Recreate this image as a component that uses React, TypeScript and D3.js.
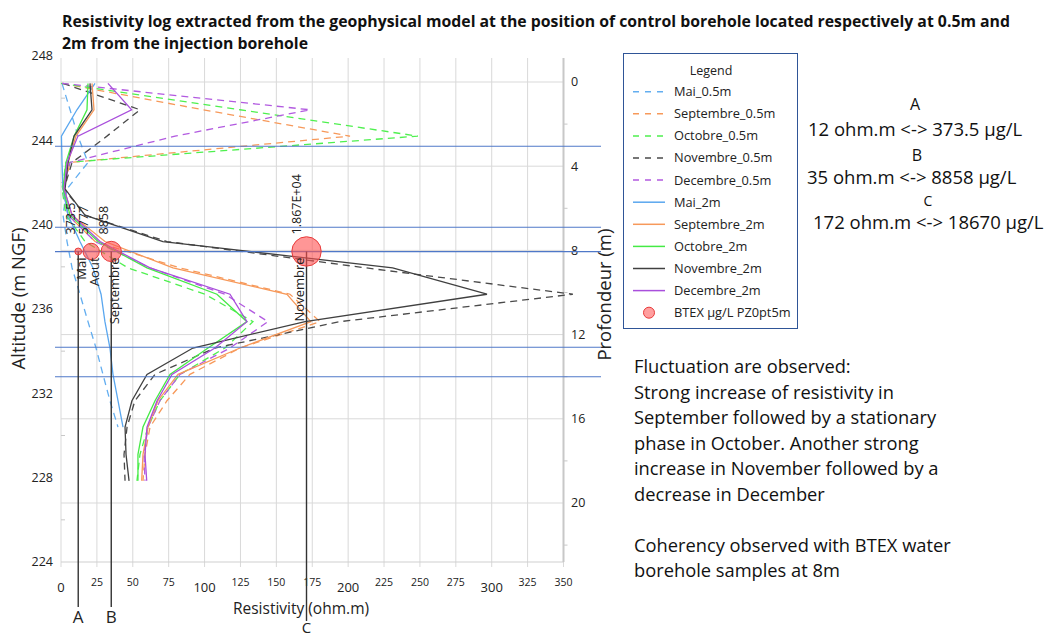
import { useEffect, useRef } from 'react';
import * as d3 from 'd3';

const WIDTH = 1051;
const HEIGHT = 638;
const FONT = "'Open Sans', 'Noto Sans', sans-serif";

// model layers (altitude m NGF), shared by every log
const altitudes = [246.7, 245.45, 244.2, 242.95, 241.7, 240.45, 239.2, 237.95, 236.7, 235.4, 234.15, 232.9, 231.65, 230.4, 229.1, 227.85];

// resistivity (ohm.m) per layer
const mai05 = [0.7, 6.3, 11.8, 18.8, 4.2, 1.4, 4.2, 7.7, 13.2, 18.8, 24.4, 29.2, 34.1, 39.7];
const sept05 = [0.7, 98.9, 201.3, 6.3, 2.1, 4.9, 23.7, 82.9, 159.5, 180.4, 124.7, 89.8, 73.8, 62, 58.5, 57.1];
const oct05 = [0, 124.7, 248.6, 3.5, 0.7, 3.5, 16.7, 46.7, 100.3, 133.7, 114.2, 82.9, 68.9, 60.6, 55, 52.9];
const nov05 = [1.4, 55, 32, 7.7, 2.1, 16.7, 73.8, 212.4, 356.5, 194.3, 107.2, 65.5, 51.5, 46, 43.9, 44.6];
const dec05 = [0.7, 173.4, 79.4, 6.3, 1.4, 4.9, 23.7, 62, 114.2, 144.2, 117.7, 82.9, 68.9, 60.6, 57.8, 58.5];
const mai2 = [23.7, 11.1, 0.3, 0.7, 1.4, 4.9, 13.2, 22.3, 27.9, 30.6, 34.1, 36.2, 39.7, 43.2];
const sept2 = [21.6, 23, 10.4, 4.9, 2.1, 7.7, 30.6, 78, 157.4, 174, 124.7, 81.5, 67.5, 60.6, 57.1, 56.2];
const oct2 = [18.8, 18.1, 9.1, 3.5, 1.4, 6.3, 25.8, 59.9, 108.6, 129.5, 102.4, 75.9, 65.5, 57.1, 53.6, 53.6];
const nov2 = [20.2, 21.6, 9.1, 4.9, 2.8, 16.7, 71, 231, 296.7, 170, 91.9, 59.9, 49.4, 44.6, 45.3, 47.4];
const dec2 = [32.7, 49.2, 11.8, 4.2, 2.1, 7.7, 27.2, 62, 117.7, 129.5, 107.2, 77.3, 66.9, 59.9, 58.5, 59.7];

const seriesNames = ['Mai_0.5m', 'Septembre_0.5m', 'Octobre_0.5m', 'Novembre_0.5m', 'Decembre_0.5m', 'Mai_2m', 'Septembre_2m', 'Octobre_2m', 'Novembre_2m', 'Decembre_2m'];
const seriesValues = [mai05, sept05, oct05, nov05, dec05, mai2, sept2, oct2, nov2, dec2];
const seriesColors = ['#63aef0', '#f7995a', '#4ff04f', '#4a4a4a', '#b25ae0', '#5aa7ef', '#f7995a', '#45ea45', '#404040', '#a94fdc'];
const seriesDashed = [true, true, true, true, true, false, false, false, false, false];

// BTEX samples (PZ0pt5m) at 8 m depth
const btexMonths = ['Mai', 'Aout', 'Septembre', 'Novembre'];
const btexResistivity = [12, 21, 35, 171];
const btexValues = [373.5, 5777, 8858, 18670];
const btexLabels = ['373.5', '5777', '8858', '1.867E+04'];
const btexDepth = 8.05;

// reference lines A / B / C
const refLetters = ['A', 'B', 'C'];
const refResistivity = [12, 35, 171];

// blue horizontal markers (depth, m)
const markerDepths = [3.05, 6.9, 8.06, 12.6, 14.0];

const xTicks = [0, 25, 50, 75, 100, 125, 150, 175, 200, 225, 250, 275, 300, 325, 350];
const altTicks = [248, 244, 240, 236, 232, 228, 224];
const altMinor = [246, 242, 238, 234, 230, 226];
const depthTicks = [0, 4, 8, 12, 16, 20];
const depthMinor = [2, 6, 10, 14, 18, 22];

const ratioLines = ['12 ohm.m <-> 373.5 µg/L', '35 ohm.m <-> 8858 µg/L', '172 ohm.m <-> 18670 µg/L'];
const noteLines = [
  'Fluctuation are observed:',
  'Strong increase of resistivity in',
  'September followed by a stationary',
  'phase in October. Another strong',
  'increase in November followed by a',
  'decrease in December',
  '',
  'Coherency observed with BTEX water',
  'borehole samples at 8m',
];

export default function App() {
  const svgRef = useRef<SVGSVGElement>(null);

  useEffect(() => {
    if (!svgRef.current) return;
    const svg = d3.select(svgRef.current);
    svg.selectAll('*').remove();

    const x = d3.scaleLinear().domain([0, 350]).range([61, 563.5]);
    const yAlt = d3.scaleLinear().domain([224, 248]).range([562, 56]);
    const yDepth = d3.scaleLinear().domain([0, 20]).range([82, 503]);
    const top = yAlt(248) + 2;
    const bottom = yAlt(224);

    svg.append('rect').attr('width', WIDTH).attr('height', HEIGHT).attr('fill', '#fff');

    // vertical grid
    const grid = svg.append('g');
    xTicks.forEach((t) => {
      grid.append('line')
        .attr('x1', x(t)).attr('x2', x(t))
        .attr('y1', top).attr('y2', bottom + 5)
        .attr('stroke', '#d9d9d9').attr('stroke-width', 1);
    });
    // horizontal grid from the depth axis
    depthTicks.forEach((t) => {
      grid.append('line')
        .attr('x1', x(0)).attr('x2', x(350))
        .attr('y1', yDepth(t)).attr('y2', yDepth(t))
        .attr('stroke', '#d9d9d9').attr('stroke-width', 1);
    });
    // bottom axis
    grid.append('line')
      .attr('x1', x(0)).attr('x2', x(350))
      .attr('y1', bottom).attr('y2', bottom)
      .attr('stroke', '#d0d0d0').attr('stroke-width', 1.2);
    // right axis
    grid.append('line')
      .attr('x1', x(350)).attr('x2', x(350))
      .attr('y1', top).attr('y2', bottom)
      .attr('stroke', '#c8c8c8').attr('stroke-width', 2);
    depthMinor.forEach((t) => {
      grid.append('line')
        .attr('x1', x(350)).attr('x2', x(350) + 4)
        .attr('y1', yDepth(t)).attr('y2', yDepth(t))
        .attr('stroke', '#c8c8c8').attr('stroke-width', 1);
    });
    altMinor.forEach((t) => {
      grid.append('line')
        .attr('x1', x(0)).attr('x2', x(0) + 4)
        .attr('y1', yAlt(t)).attr('y2', yAlt(t))
        .attr('stroke', '#c8c8c8').attr('stroke-width', 1);
    });

    // tick labels
    const labels = svg.append('g').attr('font-family', FONT).attr('fill', '#222');
    xTicks.forEach((t) => {
      const big = t % 100 === 0;
      labels.append('text')
        .attr('x', x(t)).attr('y', big ? 592 : 586)
        .attr('text-anchor', 'middle')
        .attr('font-size', big ? 13 : 10.5)
        .text(t);
    });
    altTicks.forEach((t) => {
      labels.append('text')
        .attr('x', 53).attr('y', yAlt(t)).attr('dy', '0.35em')
        .attr('text-anchor', 'end').attr('font-size', 12.5)
        .text(t);
    });
    depthTicks.forEach((t) => {
      labels.append('text')
        .attr('x', 571).attr('y', yDepth(t)).attr('dy', '0.35em')
        .attr('font-size', 12.5)
        .text(t);
    });

    // axis titles
    labels.append('text')
      .attr('transform', `translate(25,${yAlt(236.5)}) rotate(-90)`)
      .attr('text-anchor', 'middle').attr('font-size', 18.5)
      .text('Altitude (m NGF)');
    labels.append('text')
      .attr('transform', `translate(611,${yDepth(10.1)}) rotate(-90)`)
      .attr('text-anchor', 'middle').attr('font-size', 18.5)
      .text('Profondeur (m)');
    labels.append('text')
      .attr('x', 301).attr('y', 614)
      .attr('text-anchor', 'middle').attr('font-size', 15.5)
      .text('Resistivity (ohm.m)');

    // title
    const title = svg.append('text')
      .attr('font-family', FONT).attr('font-weight', 'bold').attr('font-size', 15.5)
      .attr('fill', '#111');
    title.append('tspan').attr('x', 62).attr('y', 27)
      .attr('textLength', 948).attr('lengthAdjust', 'spacingAndGlyphs')
      .text('Resistivity log extracted from the geophysical model at the position of control borehole located respectively at 0.5m and');
    title.append('tspan').attr('x', 62).attr('y', 49)
      .attr('textLength', 246).attr('lengthAdjust', 'spacingAndGlyphs')
      .text('2m from the injection borehole');

    // resistivity logs
    const line = d3.line<number>()
      .x((d) => x(d))
      .y((_, i) => yAlt(altitudes[i]));
    const logs = svg.append('g').attr('fill', 'none');
    seriesValues.forEach((vals, i) => {
      logs.append('path')
        .attr('d', line(vals))
        .attr('stroke', seriesColors[i])
        .attr('stroke-width', 1.3)
        .attr('stroke-dasharray', seriesDashed[i] ? '7,5' : null);
    });

    // blue markers
    markerDepths.forEach((d) => {
      svg.append('line')
        .attr('x1', 55).attr('x2', 601)
        .attr('y1', yDepth(d)).attr('y2', yDepth(d))
        .attr('stroke', '#4f78c8').attr('stroke-width', 1.1);
    });

    // A / B / C verticals
    refResistivity.forEach((r, i) => {
      const endY = i === 2 ? 621 : 607;
      svg.append('line')
        .attr('x1', x(r)).attr('x2', x(r))
        .attr('y1', yDepth(btexDepth)).attr('y2', endY)
        .attr('stroke', '#333').attr('stroke-width', 1.4);
      svg.append('text')
        .attr('x', x(r)).attr('y', i === 2 ? 633 : 623)
        .attr('text-anchor', 'middle')
        .attr('font-family', FONT).attr('font-size', i === 2 ? 15 : 17).attr('fill', '#222')
        .text(refLetters[i]);
    });

    // BTEX bubbles
    const rScale = d3.scaleSqrt().domain([0, d3.max(btexValues) as number]).range([0, 14.7]);
    const bubbles = svg.append('g');
    btexValues.forEach((v, i) => {
      const cx = x(btexResistivity[i]);
      const cy = yDepth(btexDepth);
      bubbles.append('circle')
        .attr('cx', cx).attr('cy', cy)
        .attr('r', Math.max(3.4, rScale(v)))
        .attr('fill', '#ff5050').attr('fill-opacity', 0.6)
        .attr('stroke', '#e83a3a').attr('stroke-width', 1);
      const off = i === 3 ? -10 : -8;
      bubbles.append('text')
        .attr('transform', `translate(${cx + off},${cy - 17}) rotate(-90)`)
        .attr('dy', '0.35em')
        .attr('font-family', FONT).attr('font-size', 12.5).attr('fill', '#222')
        .text(btexLabels[i]);
      const off2 = i === 3 ? -7 : 3;
      bubbles.append('text')
        .attr('transform', `translate(${cx + off2},${cy + 6}) rotate(-90)`)
        .attr('dy', '0.35em').attr('text-anchor', 'end')
        .attr('font-family', FONT).attr('font-size', 13).attr('fill', '#222')
        .text(btexMonths[i]);
    });

    // legend
    const lg = svg.append('g').attr('font-family', FONT).attr('fill', '#222');
    lg.append('rect')
      .attr('x', 623.5).attr('y', 53.5).attr('width', 174).attr('height', 275)
      .attr('fill', '#fff').attr('stroke', '#2f5597').attr('stroke-width', 1);
    lg.append('text')
      .attr('x', 711).attr('y', 75).attr('text-anchor', 'middle').attr('font-size', 12.5)
      .text('Legend');
    const rowY = (i: number) => 91.7 + i * 22.1;
    seriesNames.forEach((name, i) => {
      lg.append('line')
        .attr('x1', 633).attr('x2', 665)
        .attr('y1', rowY(i)).attr('y2', rowY(i))
        .attr('stroke', seriesColors[i]).attr('stroke-width', 1.5)
        .attr('stroke-dasharray', seriesDashed[i] ? '6,6' : null);
      lg.append('text')
        .attr('x', 674).attr('y', rowY(i)).attr('dy', '0.35em').attr('font-size', 12.8)
        .text(name);
    });
    lg.append('circle')
      .attr('cx', 649).attr('cy', rowY(10)).attr('r', 5.5)
      .attr('fill', '#ff5050').attr('fill-opacity', 0.55)
      .attr('stroke', '#e83a3a').attr('stroke-width', 1);
    lg.append('text')
      .attr('x', 674).attr('y', rowY(10)).attr('dy', '0.35em').attr('font-size', 12.8)
      .text('BTEX µg/L PZ0pt5m');

    // ratio annotations
    const ann = svg.append('g').attr('font-family', FONT).attr('fill', '#111');
    const letterPos = [[915, 110], [917, 161], [928, 206]];
    const letterSize = [16, 16, 14];
    const ratioPos = [[808, 136], [807, 184], [813, 229]];
    ratioLines.forEach((t, i) => {
      ann.append('text').attr('x', letterPos[i][0]).attr('y', letterPos[i][1])
        .attr('text-anchor', 'middle').attr('font-size', letterSize[i]).text(refLetters[i]);
      ann.append('text').attr('x', ratioPos[i][0]).attr('y', ratioPos[i][1])
        .attr('font-size', 18.5).text(t);
    });

    // notes
    const notes = svg.append('text').attr('font-family', FONT).attr('font-size', 18.3).attr('fill', '#111');
    noteLines.forEach((t, i) => {
      notes.append('tspan').attr('x', 634).attr('y', 373 + i * 25.5).text(t);
    });
  }, []);

  return (
    <div style={{ position: 'absolute', left: 0, top: 0 }}>
      <svg ref={svgRef} width={WIDTH} height={HEIGHT} />
    </div>
  );
}
